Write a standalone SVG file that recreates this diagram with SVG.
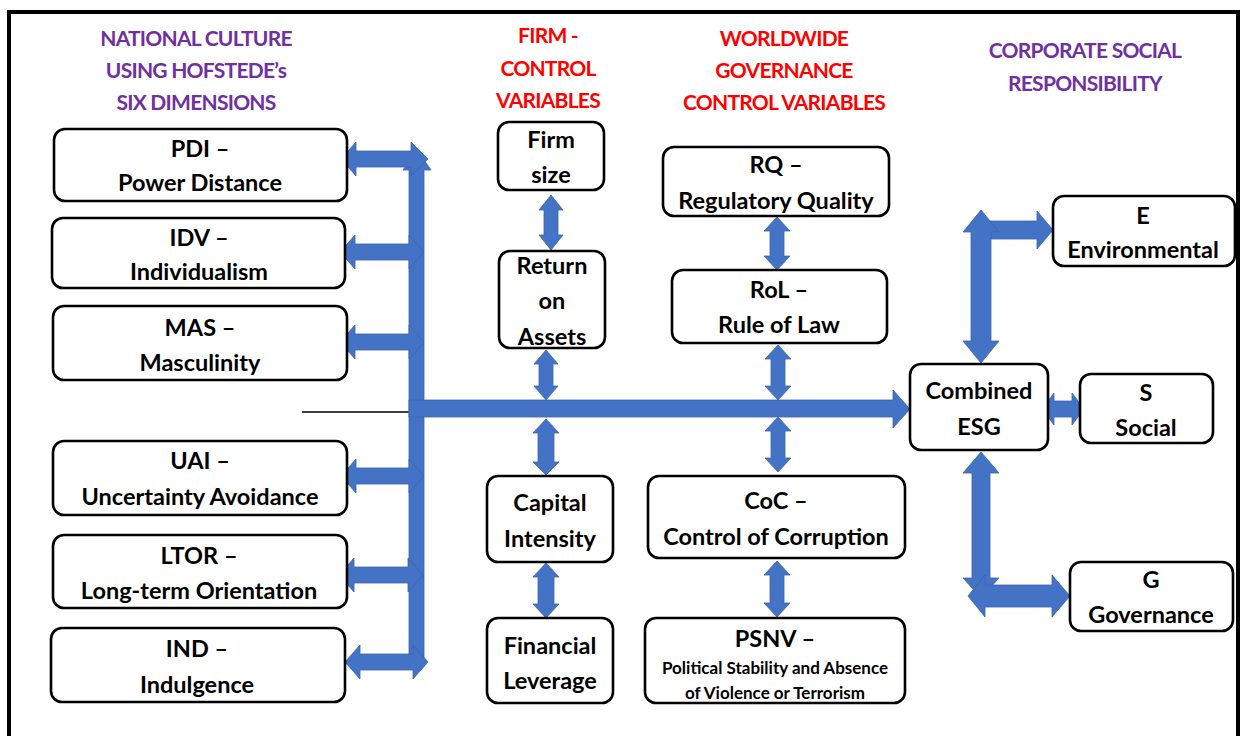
<svg xmlns="http://www.w3.org/2000/svg" width="1241" height="736" viewBox="0 0 1241 736">
  <style>
    text { font-family: Lato, "Noto Sans", "Liberation Sans", sans-serif; font-weight: 700; text-anchor: middle; }
    .hdr { font-size: 21px; letter-spacing: -0.75px; }
    .purple { fill: #7030A0; }
    .red { fill: #FF0000; }
    .box { fill: #FFFFFF; stroke: #000000; stroke-width: 2.6; }
    .lbl { font-size: 23.5px; fill: #000000; }
    .small { font-size: 17px; fill: #000000; }
    .arrow { fill: #4472C4; stroke: #3A64B0; stroke-width: 0.8; }
    .frame { fill: none; stroke: #000000; stroke-width: 4; }
  </style>

  <rect x="0" y="0" width="1241" height="736" fill="#FFFFFF"/>
  <path class="frame" d="M9 736 V12 H1238 V736"/>

  <!-- column headings -->
  <g id="head-culture">
    <text class="hdr purple" x="196" y="46">NATIONAL CULTURE</text>
    <text class="hdr purple" x="196" y="78">USING HOFSTEDE’s</text>
    <text class="hdr purple" x="196" y="110">SIX DIMENSIONS</text>
  </g>
  <g id="head-firm">
    <text class="hdr red" x="548" y="43">FIRM -</text>
    <text class="hdr red" x="548" y="76">CONTROL</text>
    <text class="hdr red" x="548" y="108">VARIABLES</text>
  </g>
  <g id="head-wgi">
    <text class="hdr red" x="784" y="46">WORLDWIDE</text>
    <text class="hdr red" x="784" y="78">GOVERNANCE</text>
    <text class="hdr red" x="784" y="110">CONTROL VARIABLES</text>
  </g>
  <g id="head-csr">
    <text class="hdr purple" x="1085" y="58">CORPORATE SOCIAL</text>
    <text class="hdr purple" x="1085" y="91">RESPONSIBILITY</text>
  </g>

  <!-- connectors -->
  <g id="connectors">
    <!-- thin line into the culture bus -->
    <line x1="302" y1="412" x2="410" y2="412" stroke="#000000" stroke-width="1.5"/>
    <!-- vertical culture bus -->
    <path class="arrow" d="M409 170 L403 170 L417 150 L431 170 L424 170 L424 662 L409 662 Z"/>
    <!-- culture dimensions to bus -->
    <path class="arrow" d="M341 159 L356 142 L356 151 L411 151 L411 142 L428 159 L411 176 L411 167 L356 167 L356 176 Z"/>
    <path class="arrow" d="M340 252 L355 235 L355 244 L409 244 L409 235 L424 252 L409 269 L409 260 L355 260 L355 269 Z"/>
    <path class="arrow" d="M340 342 L355 325 L355 334 L409 334 L409 325 L424 342 L409 359 L409 350 L355 350 L355 359 Z"/>
    <path class="arrow" d="M341 476 L356 459 L356 468 L409 468 L409 459 L424 476 L409 493 L409 484 L356 484 L356 493 Z"/>
    <path class="arrow" d="M339 575 L354 558 L354 567 L408 567 L408 558 L423 575 L408 592 L408 583 L354 583 L354 592 Z"/>
    <path class="arrow" d="M345 662 L360 645 L360 654 L413 654 L413 645 L428 662 L413 679 L413 670 L360 670 L360 679 Z"/>
    <!-- main horizontal bus to Combined ESG -->
    <path class="arrow" d="M409 400 L893 400 L893 390 L910 409 L893 428 L893 417 L409 417 Z"/>
    <!-- firm control variables -->
    <path class="arrow" d="M551 195 L563 210 L558 210 L558 235 L563 235 L551 250 L539 235 L544 235 L544 210 L539 210 Z"/>
    <path class="arrow" d="M546 350 L558 364 L553 364 L553 386 L558 386 L546 400 L534 386 L539 386 L539 364 L534 364 Z"/>
    <path class="arrow" d="M546 419 L559 433 L554 433 L554 462 L559 462 L546 475 L533 462 L538 462 L538 433 L533 433 Z"/>
    <path class="arrow" d="M546 563 L559 577 L554 577 L554 604 L559 604 L546 618 L533 604 L538 604 L538 577 L533 577 Z"/>
    <!-- governance control variables -->
    <path class="arrow" d="M777 217 L790 231 L784 231 L784 256 L790 256 L777 270 L764 256 L770 256 L770 231 L764 231 Z"/>
    <path class="arrow" d="M778 345 L791 359 L785 359 L785 386 L791 386 L778 400 L765 386 L771 386 L771 359 L765 359 Z"/>
    <path class="arrow" d="M778 417 L791 431 L785 431 L785 458 L791 458 L778 472 L765 458 L771 458 L771 431 L765 431 Z"/>
    <path class="arrow" d="M777 561 L790 575 L784 575 L784 603 L790 603 L777 617 L764 603 L770 603 L770 575 L764 575 Z"/>
    <!-- Combined ESG to pillars -->
    <path class="arrow" d="M972 221 L1037 221 L1037 211 L1053 230 L1037 249 L1037 239 L972 239 Z"/>
    <path class="arrow" d="M981 210 L999 232 L991 232 L991 341 L999 341 L981 363 L963 341 L971 341 L971 232 L963 232 Z"/>
    <path class="arrow" d="M1042 409 L1054 393 L1054 401 L1072 401 L1072 393 L1084 409 L1072 425 L1072 417 L1054 417 L1054 425 Z"/>
    <path class="arrow" d="M981 452 L999 473 L990 473 L990 578 L999 578 L981 598 L963 578 L972 578 L972 473 L963 473 Z"/>
    <path class="arrow" d="M968 596 L985 575 L985 585 L1052 585 L1052 575 L1070 596 L1052 617 L1052 607 L985 607 L985 617 Z"/>
  </g>

  <!-- national culture dimensions -->
  <g id="node-pdi">
    <rect class="box" x="54" y="129" width="293" height="72" rx="11"/>
    <text class="lbl" x="200" y="157">PDI –</text>
    <text class="lbl" x="200" y="191">Power Distance</text>
  </g>
  <g id="node-idv">
    <rect class="box" x="52" y="218" width="293" height="70" rx="11"/>
    <text class="lbl" x="199" y="246">IDV –</text>
    <text class="lbl" x="199" y="280">Individualism</text>
  </g>
  <g id="node-mas">
    <rect class="box" x="53" y="306" width="294" height="74" rx="11"/>
    <text class="lbl" x="200" y="336">MAS –</text>
    <text class="lbl" x="200" y="371">Masculinity</text>
  </g>
  <g id="node-uai">
    <rect class="box" x="53" y="441" width="294" height="74" rx="11"/>
    <text class="lbl" x="200" y="469">UAI –</text>
    <text class="lbl" x="200" y="505">Uncertainty Avoidance</text>
  </g>
  <g id="node-ltor">
    <rect class="box" x="53" y="535" width="294" height="73" rx="11"/>
    <text class="lbl" x="199" y="564">LTOR –</text>
    <text class="lbl" x="199" y="599">Long-term Orientation</text>
  </g>
  <g id="node-ind">
    <rect class="box" x="51" y="628" width="294" height="74" rx="11"/>
    <text class="lbl" x="197" y="657">IND –</text>
    <text class="lbl" x="197" y="693">Indulgence</text>
  </g>

  <!-- firm control variables -->
  <g id="node-firmsize">
    <rect class="box" x="498" y="122" width="106" height="68" rx="11"/>
    <text class="lbl" x="551" y="148">Firm</text>
    <text class="lbl" x="551" y="183">size</text>
  </g>
  <g id="node-roa">
    <rect class="box" x="499" y="251" width="106" height="97" rx="11"/>
    <text class="lbl" x="552" y="274">Return</text>
    <text class="lbl" x="552" y="309">on</text>
    <text class="lbl" x="552" y="345">Assets</text>
  </g>
  <g id="node-capint">
    <rect class="box" x="487" y="476" width="126" height="86" rx="11"/>
    <text class="lbl" x="550" y="511">Capital</text>
    <text class="lbl" x="550" y="547">Intensity</text>
  </g>
  <g id="node-finlev">
    <rect class="box" x="487" y="618" width="126" height="85" rx="11"/>
    <text class="lbl" x="550" y="654">Financial</text>
    <text class="lbl" x="550" y="689">Leverage</text>
  </g>

  <!-- worldwide governance control variables -->
  <g id="node-rq">
    <rect class="box" x="663" y="147" width="226" height="69" rx="11"/>
    <text class="lbl" x="776" y="173">RQ –</text>
    <text class="lbl" x="776" y="209">Regulatory Quality</text>
  </g>
  <g id="node-rol">
    <rect class="box" x="672" y="270" width="215" height="73" rx="11"/>
    <text class="lbl" x="779" y="298">RoL –</text>
    <text class="lbl" x="779" y="333">Rule of Law</text>
  </g>
  <g id="node-coc">
    <rect class="box" x="648" y="476" width="257" height="82" rx="11"/>
    <text class="lbl" x="776" y="509">CoC –</text>
    <text class="lbl" x="776" y="545">Control of Corruption</text>
  </g>
  <g id="node-psnv">
    <rect class="box" x="645" y="618" width="260" height="85" rx="11"/>
    <text class="lbl" x="775" y="647">PSNV –</text>
    <text class="small" x="775" y="674">Political Stability and Absence</text>
    <text class="small" x="775" y="699">of Violence or Terrorism</text>
  </g>

  <!-- corporate social responsibility -->
  <g id="node-esg">
    <rect class="box" x="910" y="364" width="138" height="86" rx="11"/>
    <text class="lbl" x="979" y="399">Combined</text>
    <text class="lbl" x="979" y="435">ESG</text>
  </g>
  <g id="node-e">
    <rect class="box" x="1053" y="196" width="182" height="70" rx="11"/>
    <text class="lbl" x="1143" y="224">E</text>
    <text class="lbl" x="1143" y="258">Environmental</text>
  </g>
  <g id="node-s">
    <rect class="box" x="1080" y="374" width="133" height="69" rx="11"/>
    <text class="lbl" x="1146" y="401">S</text>
    <text class="lbl" x="1146" y="436">Social</text>
  </g>
  <g id="node-g">
    <rect class="box" x="1070" y="562" width="163" height="69" rx="11"/>
    <text class="lbl" x="1151" y="588">G</text>
    <text class="lbl" x="1151" y="623">Governance</text>
  </g>
</svg>
